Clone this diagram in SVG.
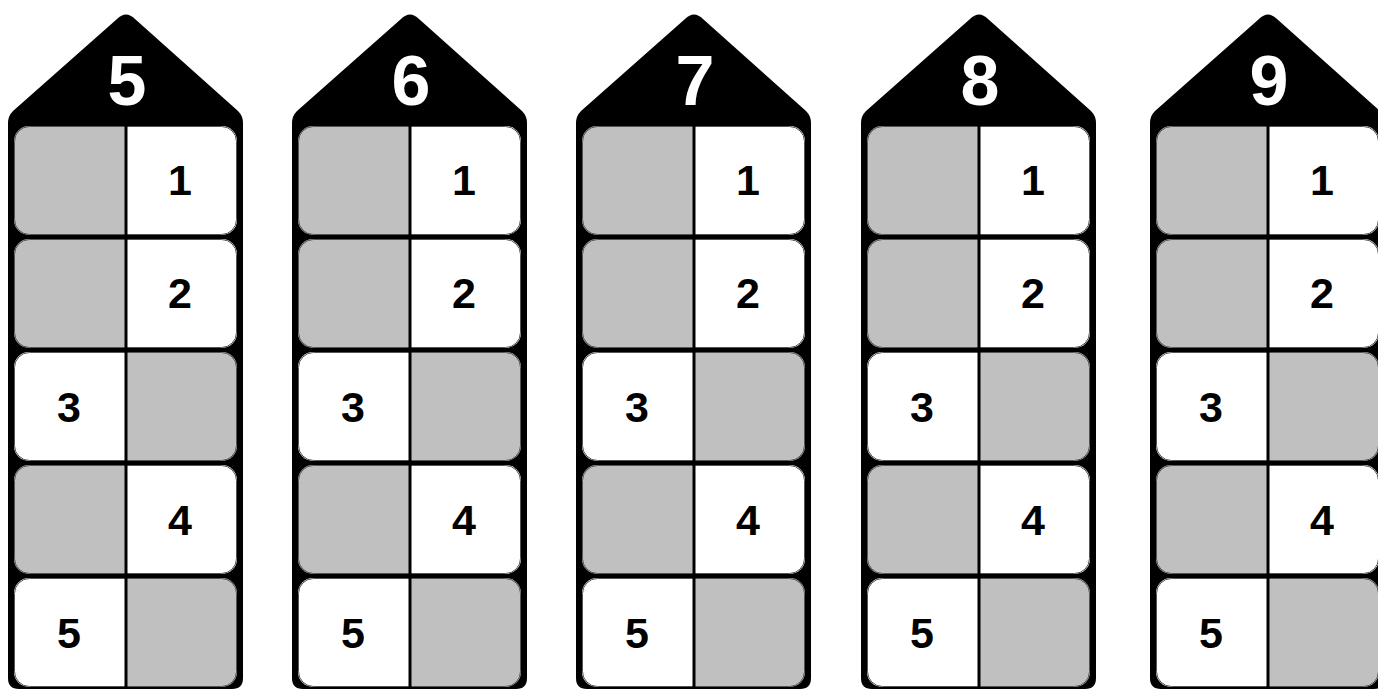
<svg xmlns="http://www.w3.org/2000/svg" xmlns:xlink="http://www.w3.org/1999/xlink" width="1378" height="689" viewBox="0 0 1378 689">
<style>
.g{fill:#c0c0c0}
.w{fill:#ffffff}
.o{fill:none;stroke:#555;stroke-width:1}
.d{stroke:#000;stroke-width:3}
.roof{font-family:"Liberation Sans",Arial,sans-serif;font-weight:bold;font-size:70px;fill:#fff;text-anchor:middle}
.n{font-family:"Liberation Sans",Arial,sans-serif;font-weight:bold;font-size:43px;fill:#000;text-anchor:middle}
</style>
<defs>
<path id="body" d="M8,123 Q8,116 13,111 L117,19 Q126,10 135,19 L238,111 Q243,116 243,123 L243,678 Q243,689 232,689 L19,689 Q8,689 8,678 Z" fill="#000"/>
<g id="rowL">
<path class="g" d="M126,0 L126,109 L29,109 A15,15 0 0 1 14,94 L14,15 A15,15 0 0 1 29,0 Z"/>
<path class="w" d="M126,0 L222,0 A15,15 0 0 1 237,15 L237,94 A15,15 0 0 1 222,109 L126,109 Z"/>
<rect class="o" x="14.5" y="0.5" width="222" height="108" rx="15"/>
<line class="d" x1="126" y1="0" x2="126" y2="109"/>
</g>
<g id="rowR">
<path class="w" d="M126,0 L126,109 L29,109 A15,15 0 0 1 14,94 L14,15 A15,15 0 0 1 29,0 Z"/>
<path class="g" d="M126,0 L222,0 A15,15 0 0 1 237,15 L237,94 A15,15 0 0 1 222,109 L126,109 Z"/>
<rect class="o" x="14.5" y="0.5" width="222" height="108" rx="15"/>
<line class="d" x1="126" y1="0" x2="126" y2="109"/>
</g>
</defs>
<g id="connectors"></g>
<g id="house5" transform="translate(0,0)">
<use xlink:href="#body"/>
<use xlink:href="#rowL" y="126"/><use xlink:href="#rowL" y="239"/><use xlink:href="#rowR" y="352"/><use xlink:href="#rowL" y="465"/><use xlink:href="#rowR" y="578"/>
<text class="roof" x="127" y="105">5</text>
<text class="n" x="180" y="195">1</text><text class="n" x="180" y="308">2</text><text class="n" x="69" y="422">3</text><text class="n" x="180" y="535">4</text><text class="n" x="69" y="648">5</text>
</g>
<g id="house6" transform="translate(284,0)">
<use xlink:href="#body"/>
<use xlink:href="#rowL" y="126"/><use xlink:href="#rowL" y="239"/><use xlink:href="#rowR" y="352"/><use xlink:href="#rowL" y="465"/><use xlink:href="#rowR" y="578"/>
<text class="roof" x="127" y="105">6</text>
<text class="n" x="180" y="195">1</text><text class="n" x="180" y="308">2</text><text class="n" x="69" y="422">3</text><text class="n" x="180" y="535">4</text><text class="n" x="69" y="648">5</text>
</g>
<g id="house7" transform="translate(568,0)">
<use xlink:href="#body"/>
<use xlink:href="#rowL" y="126"/><use xlink:href="#rowL" y="239"/><use xlink:href="#rowR" y="352"/><use xlink:href="#rowL" y="465"/><use xlink:href="#rowR" y="578"/>
<text class="roof" x="127" y="105">7</text>
<text class="n" x="180" y="195">1</text><text class="n" x="180" y="308">2</text><text class="n" x="69" y="422">3</text><text class="n" x="180" y="535">4</text><text class="n" x="69" y="648">5</text>
</g>
<g id="house8" transform="translate(853,0)">
<use xlink:href="#body"/>
<use xlink:href="#rowL" y="126"/><use xlink:href="#rowL" y="239"/><use xlink:href="#rowR" y="352"/><use xlink:href="#rowL" y="465"/><use xlink:href="#rowR" y="578"/>
<text class="roof" x="127" y="105">8</text>
<text class="n" x="180" y="195">1</text><text class="n" x="180" y="308">2</text><text class="n" x="69" y="422">3</text><text class="n" x="180" y="535">4</text><text class="n" x="69" y="648">5</text>
</g>
<g id="house9" transform="translate(1142,0)">
<use xlink:href="#body"/>
<use xlink:href="#rowL" y="126"/><use xlink:href="#rowL" y="239"/><use xlink:href="#rowR" y="352"/><use xlink:href="#rowL" y="465"/><use xlink:href="#rowR" y="578"/>
<text class="roof" x="127" y="105">9</text>
<text class="n" x="180" y="195">1</text><text class="n" x="180" y="308">2</text><text class="n" x="69" y="422">3</text><text class="n" x="180" y="535">4</text><text class="n" x="69" y="648">5</text>
</g>
</svg>
